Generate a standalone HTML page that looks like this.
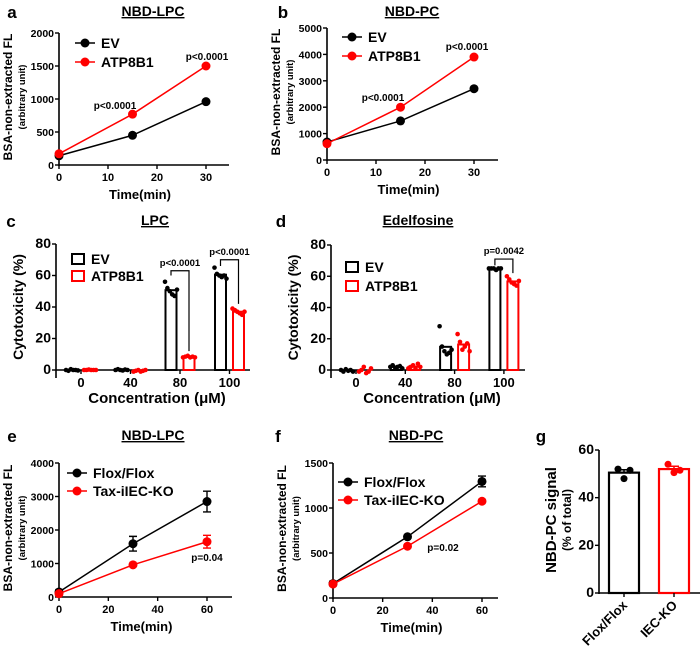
<!DOCTYPE html>
<html><head><meta charset="utf-8"><style>
html,body{margin:0;padding:0;background:#fff;}
svg{display:block;font-family:"Liberation Sans",Arial,sans-serif;font-weight:bold;}
</style></head><body>
<svg id="fig" width="700" height="654" viewBox="0 0 700 654"></svg>
<script>
// ---------- data ----------
const timeA = [0, 15, 30];
const evA = [140, 450, 960];
const atpA = [170, 770, 1500];
const timeB = [0, 15, 30];
const evB = [680, 1480, 2700];
const atpB = [620, 2000, 3900];
const concCats = ["0", "40", "80", "100"];
const evC = [[0,-0.5,0.5,0,0,-0.3],[0,0.5,0,-0.3,0.3,0],[56,52,50,48,47,51],[65,61,60,59,60,58]];
const atpC = [[0,0,0.3,0,0,0],[-1,-0.5,0,-1,-0.5,0],[8,8.5,9,8,8.5,8],[39,38,37,36,35,37]];
const evD = [[0,-1,0.5,-0.5,0,-1],[2,3,1.5,2,2.5,1],[28,15,12,10,11,13],[65,65,65,64,65,65]];
const atpD = [[-1,0,2,-2,-1,1],[1,2,3,1,4,2],[23,18,13,15,17,12],[60,58,56,55,54,57]];
const timeE = [0, 30, 60];
const floxE = [150, 1590, 2850];
const floxEErr = [60, 220, 310];
const taxE = [100, 960, 1650];
const taxEErr = [30, 40, 190];
const timeF = [0, 30, 60];
const floxF = [160, 680, 1295];
const floxFErr = [25, 15, 60];
const taxF = [155, 575, 1075];
const taxFErr = [10, 15, 15];
const gCats = ["Flox/Flox", "IEC-KO"];
const gPoints = [[52, 48, 51.5], [54, 50.5, 51.5]];

// ---------- helpers ----------
const NS = "http://www.w3.org/2000/svg";
const svg = document.getElementById("fig");
function mk(tag, attrs, parent){
  const e = document.createElementNS(NS, tag);
  for (const k in attrs) e.setAttribute(k, attrs[k]);
  (parent || svg).appendChild(e);
  return e;
}
function txt(s, x, y, size, anchor, parent, extra){
  const t = mk("text", Object.assign({x:x, y:y, "font-size":size, "text-anchor":anchor||"middle", fill:"#000"}, extra||{}), parent);
  t.textContent = s;
  return t;
}
function lin(d0, d1, p0, p1){ return v => p0 + (v - d0) * (p1 - p0) / (d1 - d0); }
const mean = a => a.reduce((s,v)=>s+v,0)/a.length;

function panelHeader(letter, lx, title, tx, ty, name){
  const g = mk("g", {});
  
  
  const l = txt(letter, lx, ty + 2, 17, "middle", g);
  
  
  const t = txt(title, tx, ty, 14, "middle", g, {"text-decoration":"underline"});
  
  
}

function yAxis(g, ax, y, ticks, yTop, yBot, fs){
  mk("line", {x1:ax, x2:ax, y1:yTop, y2:yBot, stroke:"#000", "stroke-width":1.6}, g);
  ticks.forEach(v => {
    mk("line", {x1:ax-4, x2:ax, y1:y(v), y2:y(v), stroke:"#000", "stroke-width":1.4}, g);
    const t = txt(String(v), ax-5, y(v)+4, fs, "end", g);
    
    
  });
}

function yTitle(g, x1, s1, fs1, x2, s2, fs2, cy, name){
  const t1 = txt(s1, 0, 0, fs1, "middle", g, {transform:`translate(${x1},${cy}) rotate(-90)`});
  
  
  if (s2){
    const t2 = txt(s2, 0, 0, fs2, "middle", g, {transform:`translate(${x2},${cy}) rotate(-90)`});
    
    
  }
}

function lineChart(o){
  const g = mk("g", {});
  
  
  const x = lin(0, o.xMax, o.x0, o.x1);
  const y = lin(0, o.yMax, o.y0, o.y1);
  yAxis(g, o.x0, y, o.yTicks, o.y1, o.y0 + 1, 10.5);
  mk("line", {x1:o.x0, x2:o.xEnd, y1:o.y0, y2:o.y0, stroke:"#000", "stroke-width":1.6}, g);
  o.xTicks.forEach(v => {
    mk("line", {x1:x(v), x2:x(v), y1:o.y0, y2:o.y0+4, stroke:"#000", "stroke-width":1.4}, g);
    const t = txt(String(v), x(v), o.y0 + 16, 11, "middle", g);
    
    
  });
  const xt = txt("Time(min)", (o.x0 + o.xEnd)/2 - 4, o.y0 + 34, 13, "middle", g);
  
  
  yTitle(g, o.x0 - 47, "BSA-non-extracted FL", 12, o.x0 - 34, "(arbitrary unit)", 9.5, (o.y0 + o.y1)/2 - 2, o.name);
  o.series.forEach(s => {
    const sg = mk("g", {}, g);
    
    
    const pts = s.xs.map((xv,i) => x(xv) + "," + y(s.ys[i])).join(" ");
    const pl = mk("polyline", {points:pts, fill:"none", stroke:s.color, "stroke-width":1.5}, sg);
    
    
    s.xs.forEach((xv,i) => {
      if (s.err){
        const e = s.err[i];
        mk("path", {d:`M${x(xv)-4},${y(s.ys[i]+e)}h8M${x(xv)},${y(s.ys[i]+e)}V${y(s.ys[i]-e)}M${x(xv)-4},${y(s.ys[i]-e)}h8`, stroke:s.color, "stroke-width":1.4, fill:"none"}, sg);
      }
      const c = mk("circle", {cx:x(xv), cy:y(s.ys[i]), r:4.5, fill:s.color}, sg);
      
      
    });
  });
  o.legend.forEach((L,i) => {
    const lg = mk("g", {}, g);
    
    
    const ly = o.legY + i * o.legDy;
    mk("line", {x1:o.legX-10, x2:o.legX+10, y1:ly, y2:ly, stroke:L.color, "stroke-width":1.6}, lg);
    mk("circle", {cx:o.legX, cy:ly, r:4.5, fill:L.color}, lg);
    txt(L.label, o.legX + 16, ly + 5, 14, "start", lg);
  });
  o.notes.forEach(n => {
    const t = txt(n.s, n.x, n.y, 10, "middle", g);
    
    
  });
}

function barChart(o){
  const g = mk("g", {});
  
  
  const y = lin(0, 80, o.y0, o.y1);
  const cx = i => o.c0 + i * o.dc;
  yAxis(g, o.ax, y, [0,20,40,60,80], o.y1, o.y0 + 8, 14);
  mk("line", {x1:o.ax, x2:o.xEnd, y1:o.y0, y2:o.y0, stroke:"#000", "stroke-width":1.6}, g);
  concCats.forEach((c,i) => {
    mk("line", {x1:cx(i), x2:cx(i), y1:o.y0, y2:o.y0+4, stroke:"#000", "stroke-width":1.4}, g);
    const t = txt(c, cx(i), o.y0 + 17, 13, "middle", g);
    
    
  });
  const xt = txt("Concentration (\u03bcM)", (o.ax + o.xEnd)/2 + 4, o.y0 + 33, 15, "middle", g);
  
  
  yTitle(g, o.ax - 33, "Cytotoxicity (%)", 14, 0, null, 0, (o.y0 + o.y1)/2, o.name);
  [[o.ev, "#000", -9, "ev"], [o.atp, "#ff0000", 9, "atp8b1"]].forEach(([arr, col, off, key]) => {
    arr.forEach((vals, i) => {
      const m = mean(vals);
      const bx = cx(i) + off;
      const top = y(Math.max(m, 0));
      const b = mk("rect", {x:bx-5.5, y:top, width:11, height:Math.max(o.y0 - top, 0), fill:"none", stroke:col, "stroke-width":2}, g);
      
      
      vals.forEach((v, j) => {
        const p = mk("circle", {cx:bx - 6 + j * 2.4, cy:y(v), r:2.3, fill:col}, g);
        
        
      });
    });
  });
  [["EV","#000"],["ATP8B1","#ff0000"]].forEach((L,i) => {
    const lg = mk("g", {}, g);
    
    
    const ly = o.legY + i * o.legDy;
    mk("rect", {x:o.legX-6, y:ly-5, width:12, height:10, fill:"none", stroke:L[1], "stroke-width":2}, lg);
    txt(L[0], o.legX + 13, ly + 5, 14, "start", lg);
  });
  o.brackets.forEach(br => {
    const i = br.i;
    const xa = cx(i) - 9, xb = cx(i) + 9, yb = y(br.at);
    const bg = mk("g", {}, g);
    
    
    mk("path", {d:`M${xa},${y(br.left)}V${yb}H${xb}V${y(br.right)}`, fill:"none", stroke:"#000", "stroke-width":1.2}, bg);
    txt(br.s, cx(i), yb - 5, 9.5, "middle", bg);
  });
}

// ---------- panels ----------
panelHeader("a", 12, "NBD-LPC", 153, 16, "panel-a");
lineChart({name:"panel-a", x0:59, x1:206, xEnd:229, xMax:30, y0:165, y1:33, yMax:2000,
  yTicks:[0,500,1000,1500,2000], xTicks:[0,10,20,30],
  series:[{key:"ev", xs:timeA, ys:evA, color:"#000"},{key:"atp8b1", xs:timeA, ys:atpA, color:"#ff0000"}],
  legend:[{label:"EV", color:"#000"},{label:"ATP8B1", color:"#ff0000"}], legX:85, legY:43, legDy:19,
  notes:[{s:"p<0.0001", x:115, y:109},{s:"p<0.0001", x:207, y:60}]});

panelHeader("b", 283, "NBD-PC", 412, 16, "panel-b");
lineChart({name:"panel-b", x0:327, x1:474, xEnd:498, xMax:30, y0:160, y1:28, yMax:5000,
  yTicks:[0,1000,2000,3000,4000,5000], xTicks:[0,10,20,30],
  series:[{key:"ev", xs:timeB, ys:evB, color:"#000"},{key:"atp8b1", xs:timeB, ys:atpB, color:"#ff0000"}],
  legend:[{label:"EV", color:"#000"},{label:"ATP8B1", color:"#ff0000"}], legX:352, legY:37, legDy:19,
  notes:[{s:"p<0.0001", x:383, y:101},{s:"p<0.0001", x:467, y:50}]});

panelHeader("c", 11, "LPC", 155, 225, "panel-c");
barChart({name:"panel-c", ax:56, xEnd:250, y0:370, y1:244, c0:81, dc:49.5, ev:evC, atp:atpC,
  legX:78, legY:259, legDy:17,
  brackets:[{i:2, at:63, left:60, right:12, s:"p<0.0001"},{i:3, at:70, left:66, right:42, s:"p<0.0001"}]});

panelHeader("d", 281, "Edelfosine", 418, 225, "panel-d");
barChart({name:"panel-d", ax:331, xEnd:525, y0:370, y1:245, c0:356, dc:49.3, ev:evD, atp:atpD,
  legX:352, legY:267, legDy:19,
  brackets:[{i:3, at:71, left:67, right:62, s:"p=0.0042"}]});

panelHeader("e", 12, "NBD-LPC", 153, 440, "panel-e");
lineChart({name:"panel-e", x0:59, x1:207, xEnd:232, xMax:60, y0:597, y1:463, yMax:4000,
  yTicks:[0,1000,2000,3000,4000], xTicks:[0,20,40,60],
  series:[{key:"flox", xs:timeE, ys:floxE, err:floxEErr, color:"#000"},{key:"tax-iiec-ko", xs:timeE, ys:taxE, err:taxEErr, color:"#ff0000"}],
  legend:[{label:"Flox/Flox", color:"#000"},{label:"Tax-iIEC-KO", color:"#ff0000"}], legX:77, legY:473, legDy:18,
  notes:[{s:"p=0.04", x:207, y:561}]});

panelHeader("f", 278, "NBD-PC", 416, 440, "panel-f");
lineChart({name:"panel-f", x0:333, x1:482, xEnd:498, xMax:60, y0:598, y1:463, yMax:1500,
  yTicks:[0,500,1000,1500], xTicks:[0,20,40,60],
  series:[{key:"flox", xs:timeF, ys:floxF, err:floxFErr, color:"#000"},{key:"tax-iiec-ko", xs:timeF, ys:taxF, err:taxFErr, color:"#ff0000"}],
  legend:[{label:"Flox/Flox", color:"#000"},{label:"Tax-iIEC-KO", color:"#ff0000"}], legX:348, legY:482, legDy:18,
  notes:[{s:"p=0.02", x:443, y:551}]});

// panel g
(function(){
  const g = mk("g", {});
  
  
  const l = txt("g", 541, 442, 17, "middle", g);
  
  
  const y = lin(0, 60, 593, 450);
  const ax = 599;
  yAxis(g, ax, y, [0,20,40,60], 450, 594, 14);
  mk("line", {x1:ax, x2:700, y1:593, y2:593, stroke:"#000", "stroke-width":1.6}, g);
  yTitle(g, 556, "NBD-PC signal", 15, 571, "(% of total)", 12, 520, "panel-g");
  const centers = [624, 674];
  const cols = ["#000", "#ff0000"];
  gCats.forEach((c, i) => {
    const vals = gPoints[i];
    const m = mean(vals);
    const b = mk("rect", {x:centers[i]-15, y:y(m), width:30, height:593 - y(m), fill:"none", stroke:cols[i], "stroke-width":2.2}, g);
    
    
    const sd = 1.2;
    mk("path", {d:`M${centers[i]-5},${y(m+sd)}h10M${centers[i]},${y(m+sd)}V${y(m)}`, stroke:cols[i], "stroke-width":1.5, fill:"none"}, g);
    vals.forEach((v, j) => {
      const p = mk("circle", {cx:centers[i] - 6 + j * 6, cy:y(v), r:3.5, fill:cols[i]}, g);
      
      
    });
    mk("line", {x1:centers[i], x2:centers[i], y1:593, y2:597, stroke:"#000", "stroke-width":1.4}, g);
    const t = txt(c, 0, 0, 13, "end", g, {transform:`translate(${centers[i]+4},${606}) rotate(-45)`});
    
    
  });
})();
</script>
</body></html>
